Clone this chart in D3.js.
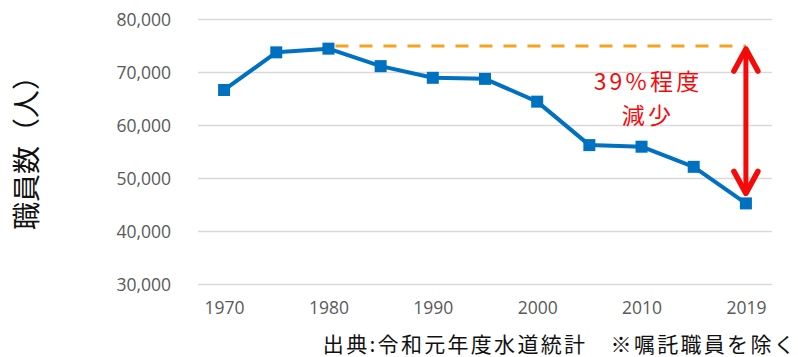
<!DOCTYPE html>
<html><head><meta charset="utf-8">
<script src="https://cdn.jsdelivr.net/npm/d3@7"></script>
<style>
html,body{margin:0;padding:0;background:#fff;}
svg{display:block;}
</style></head>
<body><svg id="chart" width="798" height="357"></svg>
<script>
// Water utility staff counts (persons), FY basis
const years = ["1970","1975","1980","1985","1990","1995","2000","2005","2010","2015","2019"];
const staff = [66700, 73800, 74500, 71200, 69000, 68800, 64500, 56300, 56000, 52200, 45300];
const yTicks = [30000, 40000, 50000, 60000, 70000, 80000];
const xTickLabels = ["1970","1980","1990","2000","2010","2019"];
const peakValue = 75000;
const annotationLines = ["39%程度", "減少"];
const yTitle = "職員数（人）";
const sourceNote = "出典:令和元年度水道統計　※嘱託職員を除く";

const svg = d3.select("#chart");
const numFont = "'Open Sans','Noto Sans',sans-serif";
const jpFont = "'Noto Sans CJK JP','Noto Sans',sans-serif";

const x = d3.scalePoint().domain(years).range([198, 772]).padding(0.5);
const y = d3.scaleLinear().domain([30000, 80000]).range([284.5, 19.5]);

// gridlines
svg.append("g").selectAll("line").data(yTicks).join("line")
  .attr("x1", 198).attr("x2", 772)
  .attr("y1", d => y(d)).attr("y2", d => y(d))
  .attr("stroke", "#d9d9d9").attr("stroke-width", 1.3);

// y axis labels
const yAxis = d3.axisLeft(y).tickValues(yTicks).tickFormat(d3.format(",")).tickSize(0).tickPadding(0);
svg.append("g").attr("transform", "translate(171,0)").call(yAxis)
  .call(g => g.select(".domain").remove())
  .call(g => g.selectAll("text").attr("fill", "#595959").attr("font-size", 17.5).attr("font-family", numFont));

// x axis labels
const xAxis = d3.axisBottom(x).tickValues(xTickLabels).tickSize(0).tickPadding(0);
svg.append("g").attr("transform", "translate(0,302)").call(xAxis)
  .call(g => g.select(".domain").remove())
  .call(g => g.selectAll("text").attr("fill", "#595959").attr("font-size", 17.5).attr("font-family", numFont));

// dashed reference line at the 1980 peak level
svg.append("line")
  .attr("x1", x("1980") + 7).attr("x2", x("2019"))
  .attr("y1", y(peakValue)).attr("y2", y(peakValue))
  .attr("stroke", "#f4a41f").attr("stroke-width", 2.8).attr("stroke-dasharray", "13,11");

// data line
svg.append("path").datum(staff)
  .attr("fill", "none").attr("stroke", "#0070c0").attr("stroke-width", 4).attr("stroke-linejoin", "round")
  .attr("d", d3.line().x((d, i) => x(years[i])).y(d => y(d)));

// square markers
svg.append("g").selectAll("rect").data(staff).join("rect")
  .attr("x", (d, i) => x(years[i]) - 6).attr("y", d => y(d) - 6)
  .attr("width", 12).attr("height", 12).attr("fill", "#0070c0");

// double-headed arrow showing the decline
const ax = x("2019");
const yTop = y(peakValue), yBot = y(staff[staff.length - 1]) - 10;
const red = "#f50a0a";
svg.append("line").attr("x1", ax).attr("x2", ax).attr("y1", yTop + 4).attr("y2", yBot - 4)
  .attr("stroke", red).attr("stroke-width", 5);
svg.append("path").attr("d", `M${ax-12},${yTop+25} L${ax},${yTop+3} L${ax+12},${yTop+25}`)
  .attr("fill", "none").attr("stroke", red).attr("stroke-width", 5.5).attr("stroke-linecap", "round").attr("stroke-linejoin", "round");
svg.append("path").attr("d", `M${ax-12},${yBot-22} L${ax},${yBot} L${ax+12},${yBot-22}`)
  .attr("fill", "none").attr("stroke", red).attr("stroke-width", 5.5).attr("stroke-linecap", "round").attr("stroke-linejoin", "round");

// annotation text
svg.append("text").attr("x", 648).attr("y", 90).attr("text-anchor", "middle").attr("letter-spacing", 3.2)
  .attr("font-family", jpFont).attr("font-size", 23).attr("fill", red).text(annotationLines[0]);
svg.append("text").attr("x", 648).attr("y", 124).attr("text-anchor", "middle").attr("letter-spacing", 3.2)
  .attr("font-family", jpFont).attr("font-size", 23).attr("fill", red).text(annotationLines[1]);

// y axis title
svg.append("text").attr("transform", "translate(37,146) rotate(-90)").attr("text-anchor", "middle")
  .attr("font-family", jpFont).attr("font-size", 28).attr("fill", "#111").text(yTitle);

// source note
svg.append("text").attr("x", 797).attr("y", 352).attr("text-anchor", "end").attr("letter-spacing", 2.3)
  .attr("font-family", jpFont).attr("font-size", 21).attr("fill", "#111").text(sourceNote);
</script>
</body></html>
